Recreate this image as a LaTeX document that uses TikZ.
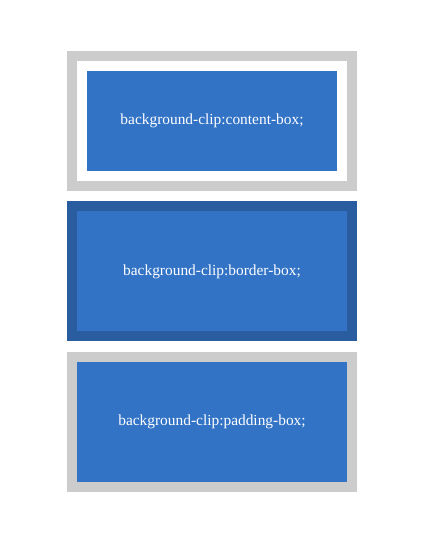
\documentclass[tikz,border=0pt]{standalone}
\usepackage{fontspec}
\setmainfont{Liberation Serif}
\usetikzlibrary{positioning}
\definecolor{clipblue}{RGB}{50,115,198}
\definecolor{clipdark}{RGB}{42,92,160}
\definecolor{clipgrey}{RGB}{204,204,204}
\tikzstyle{outerbox}   = [rectangle, minimum width=290pt, minimum height=140pt, inner sep=0pt]
\tikzstyle{paddingbox} = [rectangle, minimum width=270pt, minimum height=120pt, inner sep=0pt,
                          text=white, font=\fontsize{15.4}{17}\selectfont]
\tikzstyle{contentbox} = [rectangle, minimum width=250pt, minimum height=100pt, inner sep=0pt,
                          fill=clipblue, text=white, font=\fontsize{15.4}{17}\selectfont]

\begin{document}
\begin{tikzpicture}[x=1pt, y=-1pt, node distance=10pt]
	\useasboundingbox[fill=white] (0,0) rectangle (424,545);
	% content-box
	\node[outerbox, fill=clipgrey] (content) at (212,121) {};
	\node[paddingbox, fill=white] (contentpad) at (content.center) {};
	\node[contentbox] (contentin) at (content.center) {background-clip:content-box;};
	% border-box
	\node[outerbox, fill=clipdark, below=of content] (border) {};
	\node[paddingbox, fill=clipblue] (borderpad) at (border.center) {background-clip:border-box;};
	% padding-box
	\node[outerbox, fill=clipgrey, below=of border] (padding) {};
	\node[paddingbox, fill=clipblue] (paddingpad) at (padding.center) {background-clip:padding-box;};
\end{tikzpicture}
\end{document}
